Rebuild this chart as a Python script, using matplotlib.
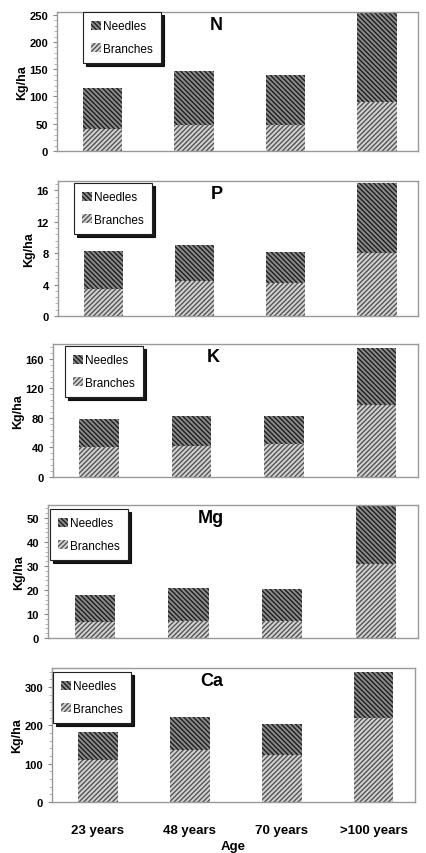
# Nutrient content in needles and branches by stand age

import matplotlib
matplotlib.use("Agg")
import matplotlib.pyplot as plt
from matplotlib.ticker import AutoMinorLocator, MultipleLocator

ages = ["23 years", "48 years", "70 years", ">100 years"]
nutrients = ["N", "P", "K", "Mg", "Ca"]

# totals (needles + branches) and branch part, kg/ha
n_total = [116, 147, 140, 255]
n_branches = [40, 48, 48, 90]
p_total = [8.3, 9.0, 8.2, 17.0]
p_branches = [3.5, 4.4, 4.2, 8.0]
k_total = [78, 83, 82, 175]
k_branches = [41, 42, 44, 97]
mg_total = [18, 21, 20.5, 55]
mg_branches = [6.5, 7, 7, 31]
ca_total = [183, 222, 203, 340]
ca_branches = [110, 137, 122, 220]

totals = [n_total, p_total, k_total, mg_total, ca_total]
branches = [n_branches, p_branches, k_branches, mg_branches, ca_branches]
y_max = [255, 17.2, 180, 55.4, 350]
y_step = [50, 4, 40, 10, 100]

# axes boxes in pixels: left, top, right, bottom
W, H = 426, 854
boxes = [(57, 13, 418, 152), (58, 182, 418, 317), (53, 345, 418, 478),
         (48, 506, 418, 639), (52, 669, 415, 803)]
legend_pos = [(83, 13), (74, 184), (65, 347), (50, 510), (53, 673)]

plt.rcParams["font.family"] = ["Liberation Sans", "DejaVu Sans"]
plt.rcParams["hatch.linewidth"] = 1.0

fig = plt.figure(figsize=(W / 100, H / 100), dpi=100)

x = range(len(ages))
for i, name in enumerate(nutrients):
    l, t, r, b = boxes[i]
    ax = fig.add_axes([l / W, 1 - b / H, (r - l) / W, (b - t) / H])
    needles = [tt - bb for tt, bb in zip(totals[i], branches[i])]
    hb = ax.bar(x, branches[i], width=0.43, color="#d2d2d2", edgecolor="#555555",
                hatch="///////", linewidth=0, label="Branches")
    hn = ax.bar(x, needles, bottom=branches[i], width=0.43, color="#8a8a8a",
                edgecolor="#1e1e1e", hatch="\\\\\\\\\\\\\\", linewidth=0, label="Needles")
    ax.set_xlim(-0.5, 3.45)
    ax.set_ylim(0, y_max[i])
    ax.yaxis.set_major_locator(MultipleLocator(y_step[i]))
    ax.yaxis.set_minor_locator(AutoMinorLocator(5))
    ax.tick_params(axis="y", which="major", length=3, labelsize=8, color="#888888")
    ax.tick_params(axis="y", which="minor", length=2, color="#aaaaaa")
    for lab in ax.get_yticklabels():
        lab.set_fontweight("bold")
    for s in ax.spines.values():
        s.set_color("#999999")
        s.set_linewidth(1)
    ax.set_ylabel("Kg/ha", fontsize=9, fontweight="bold", labelpad=1)
    ax.text(0.44, 0.97, name, transform=ax.transAxes, ha="center", va="top",
            fontsize=13, fontweight="bold")

    if i == len(nutrients) - 1:
        ax.set_xticks(list(x))
        ax.set_xticklabels(ages, fontsize=9.5, fontweight="bold")
        ax.tick_params(axis="x", length=0, pad=16)
        ax.set_xlabel("Age", fontsize=9.5, fontweight="bold", labelpad=3)
    else:
        ax.set_xticks([])

    lx, ly = legend_pos[i]
    leg = ax.legend([hn, hb], ["Needles", "Branches"], loc="upper left",
                    bbox_to_anchor=(lx / W, 1 - ly / H), bbox_transform=fig.transFigure,
                    fontsize=8.5, frameon=True, fancybox=False,
                    shadow={"color": "black", "alpha": 0.9},
                    handlelength=0.8, handleheight=0.8, handletextpad=0.2,
                    labelspacing=0.9, borderpad=0.7, borderaxespad=0)
    leg.get_frame().set_edgecolor("#222222")
    leg.get_frame().set_linewidth(0.8)

fig.savefig("out.png", dpi=100)
